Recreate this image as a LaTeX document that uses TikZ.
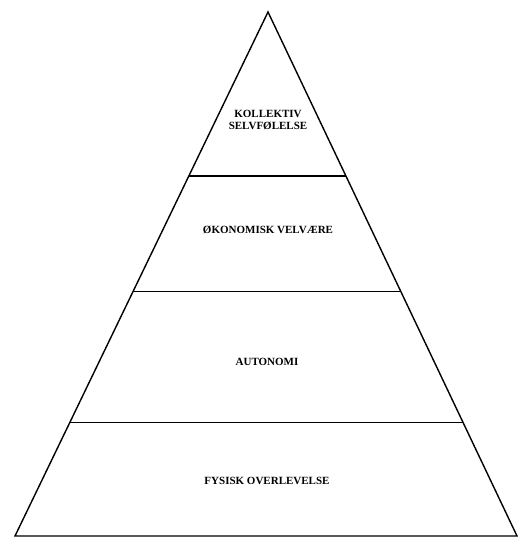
\documentclass[tikz,border=0pt]{standalone}
\usepackage{fontspec}
\setmainfont{Liberation Serif}
\usetikzlibrary{calc}
\begin{document}
\begin{tikzpicture}[x=1pt,y=-1pt,
  edge/.style={line width=1.4pt,line join=miter},
  divider/.style={line width=1.3pt},
  lbl/.style={font=\fontsize{11}{12}\selectfont\bfseries,align=center,inner sep=0pt}]
\useasboundingbox (0,0) rectangle (518,538);
\coordinate (top) at (268,12);
\coordinate (bl) at (15,536);
\coordinate (br) at (517,536);
\coordinate (l1) at ($(top)!0.313!(bl)$);
\coordinate (r1) at ($(top)!0.313!(br)$);
\coordinate (l2) at ($(top)!0.534!(bl)$);
\coordinate (r2) at ($(top)!0.534!(br)$);
\coordinate (l3) at ($(top)!0.784!(bl)$);
\coordinate (r3) at ($(top)!0.784!(br)$);
\draw[edge] (bl) -- (top) -- (br) -- cycle;
\draw[divider] (l1) -- (r1);
\draw[divider] (l2) -- (r2);
\draw[divider] (l3) -- (r3);
\node[lbl] (t1) at (268,120) {KOLLEKTIV\\SELVFØLELSE};
\node[lbl] (t2) at (268,230) {ØKONOMISK VELVÆRE};
\node[lbl] (t3) at (267,362) {AUTONOMI};
\node[lbl] (t4) at (267,481) {FYSISK OVERLEVELSE};
\end{tikzpicture}
\end{document}
